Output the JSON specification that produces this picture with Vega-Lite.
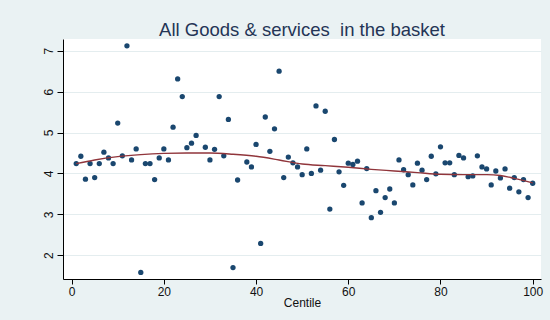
{
  "$schema": "https://vega.github.io/schema/vega-lite/v6.json",
  "width": 478,
  "height": 240,
  "autosize": {"type": "none"},
  "padding": {"left": 63, "top": 39, "right": 9, "bottom": 41},
  "background": "#eaf2f3",
  "title": {
    "text": "All Goods & services \u00a0in the basket",
    "font": "Liberation Sans",
    "fontSize": 18.5,
    "fontWeight": "normal",
    "color": "#243556",
    "anchor": "middle",
    "frame": "group",
    "offset": 0
  },
  "config": {
    "view": {"fill": "white", "stroke": null},
    "axis": {
      "labelFont": "Liberation Sans",
      "titleFont": "Liberation Sans",
      "labelColor": "#111111",
      "titleColor": "#111111",
      "domainColor": "#000000",
      "tickColor": "#000000",
      "labelFontSize": 12,
      "titleFontSize": 12,
      "titleFontWeight": "normal"
    }
  },
  "datasets": {
    "pts": [
      {"centile": 1, "value": 4.24}, {"centile": 2, "value": 4.42}, {"centile": 3, "value": 3.86}, {"centile": 4, "value": 4.24}, {"centile": 5, "value": 3.90},
      {"centile": 6, "value": 4.24}, {"centile": 7, "value": 4.52}, {"centile": 8, "value": 4.38}, {"centile": 9, "value": 4.24}, {"centile": 10, "value": 5.23},
      {"centile": 11, "value": 4.43}, {"centile": 12, "value": 7.12}, {"centile": 13, "value": 4.33}, {"centile": 14, "value": 4.60}, {"centile": 15, "value": 1.58},
      {"centile": 16, "value": 4.24}, {"centile": 17, "value": 4.24}, {"centile": 18, "value": 3.85}, {"centile": 19, "value": 4.38}, {"centile": 20, "value": 4.60},
      {"centile": 21, "value": 4.33}, {"centile": 22, "value": 5.13}, {"centile": 23, "value": 6.31}, {"centile": 24, "value": 5.88}, {"centile": 25, "value": 4.63},
      {"centile": 26, "value": 4.74}, {"centile": 27, "value": 4.93}, {"centile": 29, "value": 4.64}, {"centile": 30, "value": 4.33},
      {"centile": 31, "value": 4.59}, {"centile": 32, "value": 5.88}, {"centile": 33, "value": 4.43}, {"centile": 34, "value": 5.32}, {"centile": 35, "value": 1.70},
      {"centile": 36, "value": 3.84}, {"centile": 38, "value": 4.28}, {"centile": 39, "value": 4.16}, {"centile": 40, "value": 4.71},
      {"centile": 41, "value": 2.29}, {"centile": 42, "value": 5.38}, {"centile": 43, "value": 4.54}, {"centile": 44, "value": 5.09}, {"centile": 45, "value": 6.50},
      {"centile": 46, "value": 3.90}, {"centile": 47, "value": 4.40}, {"centile": 48, "value": 4.26}, {"centile": 49, "value": 4.16}, {"centile": 50, "value": 3.97},
      {"centile": 51, "value": 4.60}, {"centile": 52, "value": 4.00}, {"centile": 53, "value": 5.65}, {"centile": 54, "value": 4.08}, {"centile": 55, "value": 5.52},
      {"centile": 56, "value": 3.13}, {"centile": 57, "value": 4.83}, {"centile": 58, "value": 4.04}, {"centile": 59, "value": 3.71}, {"centile": 60, "value": 4.25},
      {"centile": 61, "value": 4.22}, {"centile": 62, "value": 4.30}, {"centile": 63, "value": 3.28}, {"centile": 64, "value": 4.12}, {"centile": 65, "value": 2.92},
      {"centile": 66, "value": 3.58}, {"centile": 67, "value": 3.05}, {"centile": 68, "value": 3.41}, {"centile": 69, "value": 3.62}, {"centile": 70, "value": 3.28},
      {"centile": 71, "value": 4.33}, {"centile": 72, "value": 4.09}, {"centile": 73, "value": 3.97}, {"centile": 74, "value": 3.72}, {"centile": 75, "value": 4.25},
      {"centile": 76, "value": 4.08}, {"centile": 77, "value": 3.85}, {"centile": 78, "value": 4.42}, {"centile": 79, "value": 3.99}, {"centile": 80, "value": 4.65},
      {"centile": 81, "value": 4.26}, {"centile": 82, "value": 4.26}, {"centile": 83, "value": 3.97}, {"centile": 84, "value": 4.44}, {"centile": 85, "value": 4.38},
      {"centile": 86, "value": 3.92}, {"centile": 87, "value": 3.94}, {"centile": 88, "value": 4.43}, {"centile": 89, "value": 4.16}, {"centile": 90, "value": 4.11},
      {"centile": 91, "value": 3.72}, {"centile": 92, "value": 4.06}, {"centile": 93, "value": 3.89}, {"centile": 94, "value": 4.11}, {"centile": 95, "value": 3.64},
      {"centile": 96, "value": 3.90}, {"centile": 97, "value": 3.55}, {"centile": 98, "value": 3.85}, {"centile": 99, "value": 3.41}, {"centile": 100, "value": 3.76}
    ],
    "fit": [
      {"centile": 1, "value": 4.24}, {"centile": 5, "value": 4.33}, {"centile": 10, "value": 4.41}, {"centile": 15, "value": 4.46},
      {"centile": 20, "value": 4.49}, {"centile": 25, "value": 4.50}, {"centile": 30, "value": 4.50}, {"centile": 35, "value": 4.47},
      {"centile": 40, "value": 4.42}, {"centile": 45, "value": 4.33}, {"centile": 50, "value": 4.23}, {"centile": 55, "value": 4.19},
      {"centile": 60, "value": 4.15}, {"centile": 65, "value": 4.10}, {"centile": 70, "value": 4.06}, {"centile": 75, "value": 4.02},
      {"centile": 80, "value": 3.98}, {"centile": 85, "value": 3.97}, {"centile": 90, "value": 3.97}, {"centile": 93, "value": 3.95},
      {"centile": 96, "value": 3.88}, {"centile": 100, "value": 3.77}
    ]
  },
  "encoding": {
    "x": {
      "field": "centile",
      "type": "quantitative",
      "scale": {"domain": [-1.87, 101.8], "nice": false, "zero": false},
      "axis": {
        "title": "Centile",
        "values": [0, 20, 40, 60, 80, 100],
        "grid": false,
        "tickSize": 5,
        "labelPadding": 2,
        "titlePadding": 0
      }
    },
    "y": {
      "field": "value",
      "type": "quantitative",
      "scale": {"domain": [1.42, 7.286], "nice": false, "zero": false},
      "axis": {
        "title": null,
        "values": [2, 3, 4, 5, 6, 7],
        "grid": true,
        "gridColor": "#e4edef",
        "gridWidth": 1.2,
        "tickSize": 6,
        "labelAngle": -90,
        "labelAlign": "center",
        "labelBaseline": "alphabetic",
        "labelPadding": 5
      }
    }
  },
  "layer": [
    {
      "data": {"name": "pts"},
      "mark": {"type": "circle", "size": 28, "color": "#1a476f", "opacity": 1}
    },
    {
      "data": {"name": "fit"},
      "mark": {"type": "line", "color": "#90353b", "strokeWidth": 1.4, "interpolate": "monotone"}
    }
  ]
}
